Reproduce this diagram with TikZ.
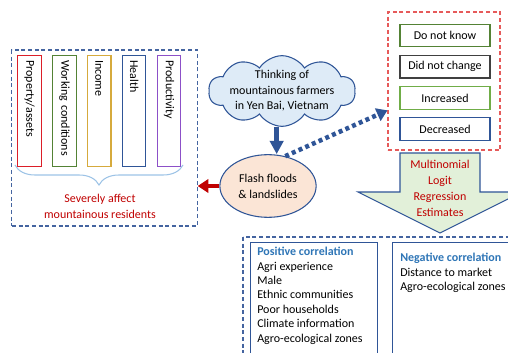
\documentclass[tikz,border=0pt]{standalone}
\usepackage{fontspec}
\setmainfont{Carlito}
\usetikzlibrary{arrows.meta,positioning,shapes.geometric,shapes.symbols,decorations.pathreplacing}

\definecolor{lineblue}{RGB}{47,85,151}
\definecolor{dashblue}{RGB}{68,100,160}
\definecolor{cloudfill}{RGB}{222,235,247}
\definecolor{peach}{RGB}{251,229,214}
\definecolor{arrowgreen}{RGB}{226,240,217}
\definecolor{darkred}{RGB}{192,0,0}
\definecolor{lightred}{RGB}{230,90,90}
\definecolor{boxred}{RGB}{220,30,40}
\definecolor{boxgreen}{RGB}{84,130,53}
\definecolor{boxgold}{RGB}{214,170,60}
\definecolor{boxpurple}{RGB}{140,80,200}
\definecolor{boxgray}{RGB}{64,64,64}
\definecolor{lightgreen}{RGB}{112,173,71}
\definecolor{bracecol}{RGB}{157,195,230}
\definecolor{titleblue}{RGB}{46,117,182}

\begin{document}
\begin{tikzpicture}[x=0.75pt,y=-0.75pt,font=\fontsize{9}{10.8}\selectfont,
  dashbox/.style={draw=#1,dashed,dash pattern=on 3pt off 2pt,line width=0.8pt},
  aspectbox/.style={draw=#1,line width=0.8pt,rotate=-90,minimum width=83pt,minimum height=17.5pt,
    text width=76pt,align=left,inner sep=3pt},
  answerbox/.style={draw=#1,line width=0.8pt,minimum width=67.5pt,minimum height=17pt},
  resultbox/.style={draw=lineblue,line width=0.8pt,anchor=north west},
  thickarrow/.style={line width=#1,-{Triangle[length=10pt,width=10pt]}}]
\useasboundingbox (0,0) rectangle (508,353);
\clip (0,0) rectangle (508,353);

% left: affected aspects
\node[dashbox=dashblue,minimum width=139pt,minimum height=132pt] (affect) at (104.5,138) {};
\foreach \k/\col/\txt in {0/boxred/Property\slash assets,1/boxgreen/Working conditions,2/boxgold/Income,3/lineblue/Health,4/boxpurple/Productivity}
  {\node[aspectbox=\col] (aspect\k) at (29.5+34.9*\k,111) {\txt};}
\draw[bracecol,line width=0.8pt,decorate,decoration={brace,amplitude=15pt}] (183,165) -- (15,165);
\node[text=darkred,align=center,font=\fontsize{9}{12}\selectfont] (severe) at (100,206) {Severely affect\\mountainous residents};

% middle: cloud and hazard
\node[cloud,cloud puffs=10,cloud puff arc=115,aspect=2,draw=lineblue,fill=cloudfill,line width=0.8pt,
  inner sep=0pt,minimum width=110pt,minimum height=53pt] (think) at (282,91) {};
\node[align=center,font=\fontsize{9}{11.6}\selectfont] (thinktext) at (think.center) {Thinking of\\mountainous farmers\\in Yen Bai, Vietnam};
\node[ellipse,draw=lineblue,fill=peach,line width=0.8pt,minimum width=67pt,minimum height=47pt,
  align=center,font=\fontsize{9}{12}\selectfont] (flood) at (268,186) {Flash floods\\\& landslides};

% right: answers
\node[dashbox=lightred,minimum width=84pt,minimum height=103.5pt] (answers) at (444,81) {};
\foreach \k/\col/\txt in {0/boxgreen/Do not know,1/boxgray/Did not change,2/lightgreen/Increased,3/lineblue/Decreased}
  {\node[answerbox=\col] (answer\k) at (445,35.5+31.2*\k) {\txt};}

% model arrow
\draw[lineblue,fill=arrowgreen,line width=0.8pt] (400,153) -- (480,153) -- (480,192) -- (522,192)
  -- (440,233) -- (358,192) -- (400,192) -- cycle;
\node[text=darkred,align=center,font=\fontsize{9}{12}\selectfont] (model) at (440,188) {Multinomial\\Logit\\Regression\\Estimates};

% bottom: results
\draw[dashbox=dashblue] (243,237) rectangle (530,370);
\node[resultbox,minimum width=95pt,minimum height=83pt] (pos) at (250,242) {};
\node[resultbox,minimum width=100pt,minimum height=95pt] (neg) at (392,242) {};
\node[anchor=north west,align=left,inner sep=0pt] (postext) at ([shift={(7,5)}]pos.north west)
  {\textcolor{titleblue}{\textbf{Positive correlation}}\\Agri experience\\Male\\Ethnic communities\\Poor households\\Climate information\\Agro-ecological zones};
\node[anchor=north west,align=left,inner sep=0pt] (negtext) at ([shift={(8,11)}]neg.north west)
  {\textcolor{titleblue}{\textbf{Negative correlation}}\\Distance to market\\Agro-ecological zones};

% connectors
\draw[darkred,line width=3pt,-{Triangle[length=8pt,width=10pt]}] (flood.west) -- (flood.west -| affect.east);
\draw[lineblue,thickarrow=4pt] ([xshift=-4pt]think.south) -- ([xshift=-4pt]think.south |- flood.north);
\draw[lineblue,line width=3.4pt,dash pattern=on 3pt off 2.5pt,-{Triangle[length=8pt,width=10pt]}]
  (flood.60) -- ([yshift=-22pt]answers.west);
\end{tikzpicture}
\end{document}
